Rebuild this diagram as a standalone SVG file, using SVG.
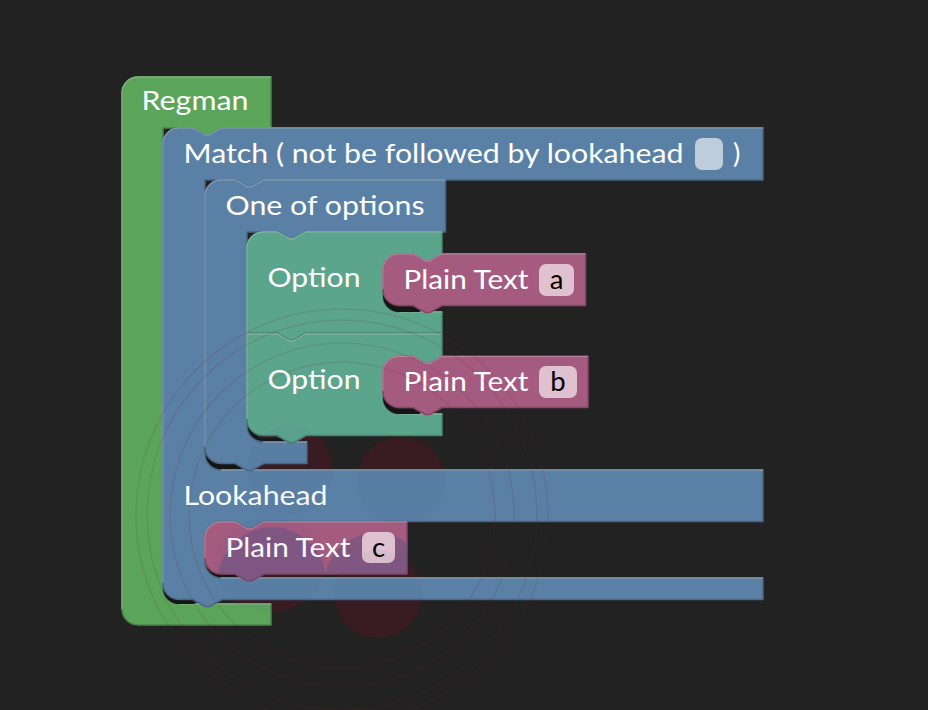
<svg xmlns="http://www.w3.org/2000/svg" width="928" height="710" viewBox="0 0 928 710">
<style>
text{font-family:"Lato","Open Sans","Liberation Sans",sans-serif;font-size:27.500px;fill:#fff;font-weight:400}
text.v{fill:#000}
.b{stroke-width:1.5;stroke-linejoin:round}
.h{fill:none;stroke-width:1.3;stroke-opacity:.85}
.green{fill:#5ba55b;stroke:#498449}.hgreen{stroke:#8cc08c}
.blue{fill:#5b80a5;stroke:#496684}.hblue{stroke:#8ca6c0}
.teal{fill:#5ba58c;stroke:#498470}.hteal{stroke:#8cc0ae}
.pink{fill:#a55b80;stroke:#844966}.hpink{stroke:#c08ca6}
.fp{fill:#dfc1d0}
.blob{fill:#3a1a1e}
.ring{fill:none;stroke:#7a2030;stroke-opacity:.13;stroke-width:1.5}
.sh{fill:#151515}
.ov{fill:#3c50a0;fill-opacity:.04}
</style>
<defs>
<clipPath id="cpc"><path d="M221,522H235l10.500,6q1,1 2,1h4q1,0 2,-1l10.500,-6H407V574H264l-10.500,6q-1,1 -2,1h-4q-1,0 -2,-1l-10.500,-6H221a16,16 0 0 1 -16,-16V538a16,16 0 0 1 16,-16Z"/></clipPath>
</defs>
<rect width="928" height="710" fill="#222"/>
<g id="watermark-under">
<ellipse class="blob" cx="401" cy="481" rx="44" ry="44"/>
<ellipse class="blob" cx="378" cy="594" rx="44" ry="44"/>
<ellipse class="blob" cx="290" cy="470" rx="43" ry="45"/>
<ellipse class="blob" cx="270" cy="565" rx="55" ry="47"/>
</g>
<g id="regman">
<path class="b green" d="M122,93a16,16 0 0 1 16,-16H271V128H222l-10.500,6q-1,1 -2,1h-4q-1,0 -2,-1l-10.500,-6H163V588a16,16 0 0 0 16,16H271V625H138a16,16 0 0 1 -16,-16Z"/>
<path class="h hgreen" d="M122,609V93a16,16 0 0 1 16,-16H271M179,604H271"/>
<text x="141.500" y="110" textLength="107" lengthAdjust="spacingAndGlyphs">Regman</text>
</g>
<path class="sh" d="M163,580V588a16,16 0 0 0 16,16H195V600H176Z"/>
<path class="sh" d="M205,445V454a16,16 0 0 0 16,16H240V464H216Z"/>
<path class="sh" d="M205,555V562a16,16 0 0 0 16,16H240V575H216Z"/>
<g id="match">
<path class="b blue" d="M179,128H193l10.500,6q1,1 2,1h4q1,0 2,-1l10.500,-6H763V180H264l-10.500,6q-1,1 -2,1h-4q-1,0 -2,-1l-10.500,-6H205V454a16,16 0 0 0 16,16H763V521.500H264l-10.500,6q-1,1 -2,1h-4q-1,0 -2,-1l-10.500,-6H221a16,16 0 0 0 -16,16V562a16,16 0 0 0 16,16H763V599.500H222l-10.500,6q-1,1 -2,1h-4q-1,0 -2,-1l-10.500,-6H179a16,16 0 0 1 -16,-16V144a16,16 0 0 1 16,-16Z"/>
<path class="h hblue" d="M163,583V144a16,16 0 0 1 16,-16H193l10.500,6q1,1 2,1h4q1,0 2,-1l10.500,-6H763M221,470H763M221,578H763"/>
<text x="183.500" y="163" textLength="500" lengthAdjust="spacingAndGlyphs">Match ( not be followed by lookahead</text>
<rect x="695" y="138" width="28" height="32" rx="7" fill="#bdcddc"/>
<text x="733" y="163">)</text>
<text x="183.500" y="505" textLength="144" lengthAdjust="spacingAndGlyphs">Lookahead</text>
</g>
<path class="sh" d="M247,415V426a16,16 0 0 0 16,16H285V438H258Z"/>
<g id="one-of-options">
<path class="b blue" d="M221,180H235l10.500,6q1,1 2,1h4q1,0 2,-1l10.500,-6H445.500V232H306l-10.500,6q-1,1 -2,1h-4q-1,0 -2,-1l-10.500,-6H247V426a16,16 0 0 0 16,16H307V463.500H264l-10.500,6q-1,1 -2,1h-4q-1,0 -2,-1l-10.500,-6H221a16,16 0 0 1 -16,-16V196a16,16 0 0 1 16,-16Z"/>
<path class="h hblue" d="M205,447V196a16,16 0 0 1 16,-16H235l10.500,6q1,1 2,1h4q1,0 2,-1l10.500,-6H445.500M263,442H307"/>
<text x="225.500" y="215" textLength="199" lengthAdjust="spacingAndGlyphs">One of options</text>
</g>
<g id="option-1">
<path class="b teal" d="M263,232H277l10.500,6q1,1 2,1h4q1,0 2,-1l10.500,-6H442V254H442l-10.500,6q-1,1 -2,1h-4q-1,0 -2,-1l-10.500,-6H399a16,16 0 0 0 -16,16V296a16,16 0 0 0 16,16H442V333H306l-10.500,6q-1,1 -2,1h-4q-1,0 -2,-1l-10.500,-6H247V248a16,16 0 0 1 16,-16Z"/>
<path class="h hteal" d="M247,333V248a16,16 0 0 1 16,-16H277l10.500,6q1,1 2,1h4q1,0 2,-1l10.500,-6H442M399,312H442"/>
<text x="267.500" y="287" textLength="93" lengthAdjust="spacingAndGlyphs">Option</text>
</g>
<path class="sh" d="M383,285V296a16,16 0 0 0 16,16H420V307H395Z"/>
<g id="plain-text-a">
<path class="b pink" d="M399,254H413l10.500,6q1,1 2,1h4q1,0 2,-1l10.500,-6H585.500V305.500H442l-10.500,6q-1,1 -2,1h-4q-1,0 -2,-1l-10.500,-6H399a16,16 0 0 1 -16,-16V270a16,16 0 0 1 16,-16Z"/>
<path class="h hpink" d="M383,289V270a16,16 0 0 1 16,-16H413l10.500,6q1,1 2,1h4q1,0 2,-1l10.500,-6H585.500"/>
<text x="403.500" y="289" textLength="125" lengthAdjust="spacingAndGlyphs">Plain Text</text>
<rect class="fp" x="539" y="264" width="35" height="32" rx="7"/>
<text class="v" x="556.500" y="289" text-anchor="middle">a</text>
</g>
<g id="option-2">
<path class="b teal" d="M247,334H277l10.500,6q1,1 2,1h4q1,0 2,-1l10.500,-6H442V356.500H442l-10.500,6q-1,1 -2,1h-4q-1,0 -2,-1l-10.500,-6H399a16,16 0 0 0 -16,16V398a16,16 0 0 0 16,16H442V435.500H306l-10.500,6q-1,1 -2,1h-4q-1,0 -2,-1l-10.500,-6H263a16,16 0 0 1 -16,-16Z"/>
<path class="h hteal" d="M247,419V334H277l10.500,6q1,1 2,1h4q1,0 2,-1l10.500,-6H442M399,414H442"/>
<text x="267.500" y="389" textLength="93" lengthAdjust="spacingAndGlyphs">Option</text>
</g>
<path class="sh" d="M383,387V398a16,16 0 0 0 16,16H420V409H395Z"/>
<g id="plain-text-b">
<path class="b pink" d="M399,356.500H413l10.500,6q1,1 2,1h4q1,0 2,-1l10.500,-6H588V407.500H442l-10.500,6q-1,1 -2,1h-4q-1,0 -2,-1l-10.500,-6H399a16,16 0 0 1 -16,-16V372.500a16,16 0 0 1 16,-16Z"/>
<path class="h hpink" d="M383,391V372.500a16,16 0 0 1 16,-16H413l10.500,6q1,1 2,1h4q1,0 2,-1l10.500,-6H588"/>
<text x="403.500" y="391" textLength="125" lengthAdjust="spacingAndGlyphs">Plain Text</text>
<rect class="fp" x="539" y="366" width="38" height="32" rx="7"/>
<text class="v" x="558" y="391" text-anchor="middle">b</text>
</g>
<g id="plain-text-c">
<path class="b pink" d="M221,522H235l10.500,6q1,1 2,1h4q1,0 2,-1l10.500,-6H407V574H264l-10.500,6q-1,1 -2,1h-4q-1,0 -2,-1l-10.500,-6H221a16,16 0 0 1 -16,-16V538a16,16 0 0 1 16,-16Z"/>
<path class="h hpink" d="M205,558V538a16,16 0 0 1 16,-16H235l10.500,6q1,1 2,1h4q1,0 2,-1l10.500,-6H407"/>
<g clip-path="url(#cpc)" fill="#5b4f80" fill-opacity=".45">
<ellipse cx="272" cy="585" rx="55" ry="58"/>
<ellipse cx="376" cy="585" rx="52" ry="52"/>
</g>
<text x="225.500" y="557" textLength="125" lengthAdjust="spacingAndGlyphs">Plain Text</text>
<rect class="fp" x="362" y="532" width="33" height="31" rx="7"/>
<text class="v" x="378.500" y="557" text-anchor="middle">c</text>
</g>
<g id="watermark-over">
<ellipse class="ov" cx="401" cy="481" rx="44" ry="44"/>
<ellipse class="ov" cx="378" cy="594" rx="44" ry="44"/>
<ellipse class="ov" cx="290" cy="470" rx="43" ry="45"/>
<ellipse class="ov" cx="270" cy="565" rx="55" ry="47"/>
<circle class="ring" cx="342" cy="515" r="153"/>
<circle class="ring" cx="342" cy="515" r="172"/>
<circle class="ring" cx="342" cy="515" r="195"/>
<circle class="ring" cx="342" cy="515" r="206"/>
</g>
</svg>
